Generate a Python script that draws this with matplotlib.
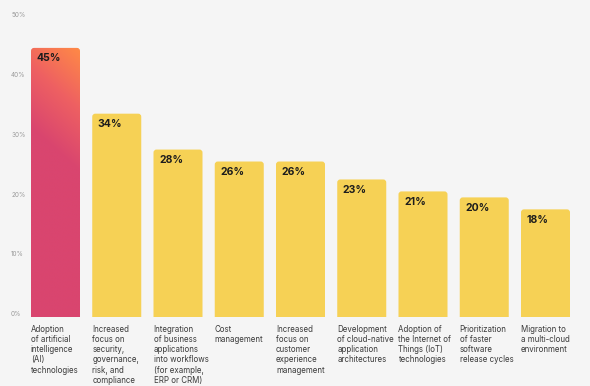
import matplotlib.pyplot as plt
import numpy as np
from matplotlib.patches import FancyBboxPatch
from matplotlib.colors import LinearSegmentedColormap

plt.rcParams['font.family'] = ['Inter', 'DejaVu Sans']

# data
categories = [
    "Adoption\nof artificial\nintelligence\n(AI)\ntechnologies",
    "Increased\nfocus on\nsecurity,\ngovernance,\nrisk, and\ncompliance",
    "Integration\nof business\napplications\ninto workflows\n(for example,\nERP or CRM)",
    "Cost\nmanagement",
    "Increased\nfocus on\ncustomer\nexperience\nmanagement",
    "Development\nof cloud-native\napplication\narchitectures",
    "Adoption of\nthe Internet of\nThings (IoT)\ntechnologies",
    "Prioritization\nof faster\nsoftware\nrelease cycles",
    "Migration to\na multi-cloud\nenvironment",
]
values = [45, 34, 28, 26, 26, 23, 21, 20, 18]
yticks = [0, 10, 20, 30, 40, 50]

bg = '#f5f5f5'
yellow = '#f6d155'
pink = '#d9456f'
orange = '#ff8a46'

fig = plt.figure(figsize=(5.9, 3.86), dpi=100, facecolor=bg)
ax = fig.add_axes([31/590, 69/386, 539/590, 299/386])
ax.set_facecolor(bg)

x = np.arange(len(values))
w = 0.8
ax.set_xlim(-0.4, len(values) - 0.6)
ax.set_ylim(0, 50)

# rounded top corners (aspect-corrected)
px_x = 539 / (len(values) - 0.2)
px_y = 299 / 50
r = 3 / px_x
aspect = px_x / px_y

patches = []
for i, v in enumerate(values):
    p = FancyBboxPatch((x[i] - w/2, -2), w, v + 2,
                       boxstyle="round,pad=0,rounding_size=%f" % r,
                       mutation_aspect=aspect,
                       fc=yellow, ec='none', zorder=2)
    ax.add_patch(p)
    patches.append(p)

# gradient for the first bar
p0 = patches[0]
p0.set_facecolor('none')
gx, gy = np.meshgrid(np.linspace(0, 1, 60), np.linspace(0, 1, 300))
t = np.clip((gy + 0.16 * gx - 0.70) / 0.46, 0, 1)
cmap = LinearSegmentedColormap.from_list('g', [pink, '#ee6062', orange])
im = ax.imshow(t, cmap=cmap, origin='lower', aspect='auto',
               extent=(x[0] - w/2, x[0] + w/2, 0, values[0]), zorder=2,
               interpolation='bilinear')
im.set_clip_path(p0)

# value labels
for i, v in enumerate(values):
    ax.annotate("%d%%" % v, (x[i] - w/2, v), xytext=(4, -4),
                textcoords='offset points', ha='left', va='top',
                fontsize=7.5, fontweight='bold', color='#1c1c1c', zorder=3)

# category labels
for i, c in enumerate(categories):
    ax.annotate(c, (x[i] - w/2, 0), xytext=(0, -6),
                textcoords='offset points', ha='left', va='top',
                fontsize=5.7, color='#3a3a3a', linespacing=1.15,
                annotation_clip=False)

# y tick labels
for yt in yticks:
    ax.annotate("%d%%" % yt, (0, yt), xycoords=('figure fraction', 'data'),
                xytext=(8, 2), textcoords='offset points', ha='left',
                va='center', fontsize=4.6, color='#9a9a9a',
                annotation_clip=False)

ax.set_xticks([])
ax.set_yticks([])
for s in ax.spines.values():
    s.set_visible(False)

fig.savefig('out.png', dpi=100, facecolor=bg)
